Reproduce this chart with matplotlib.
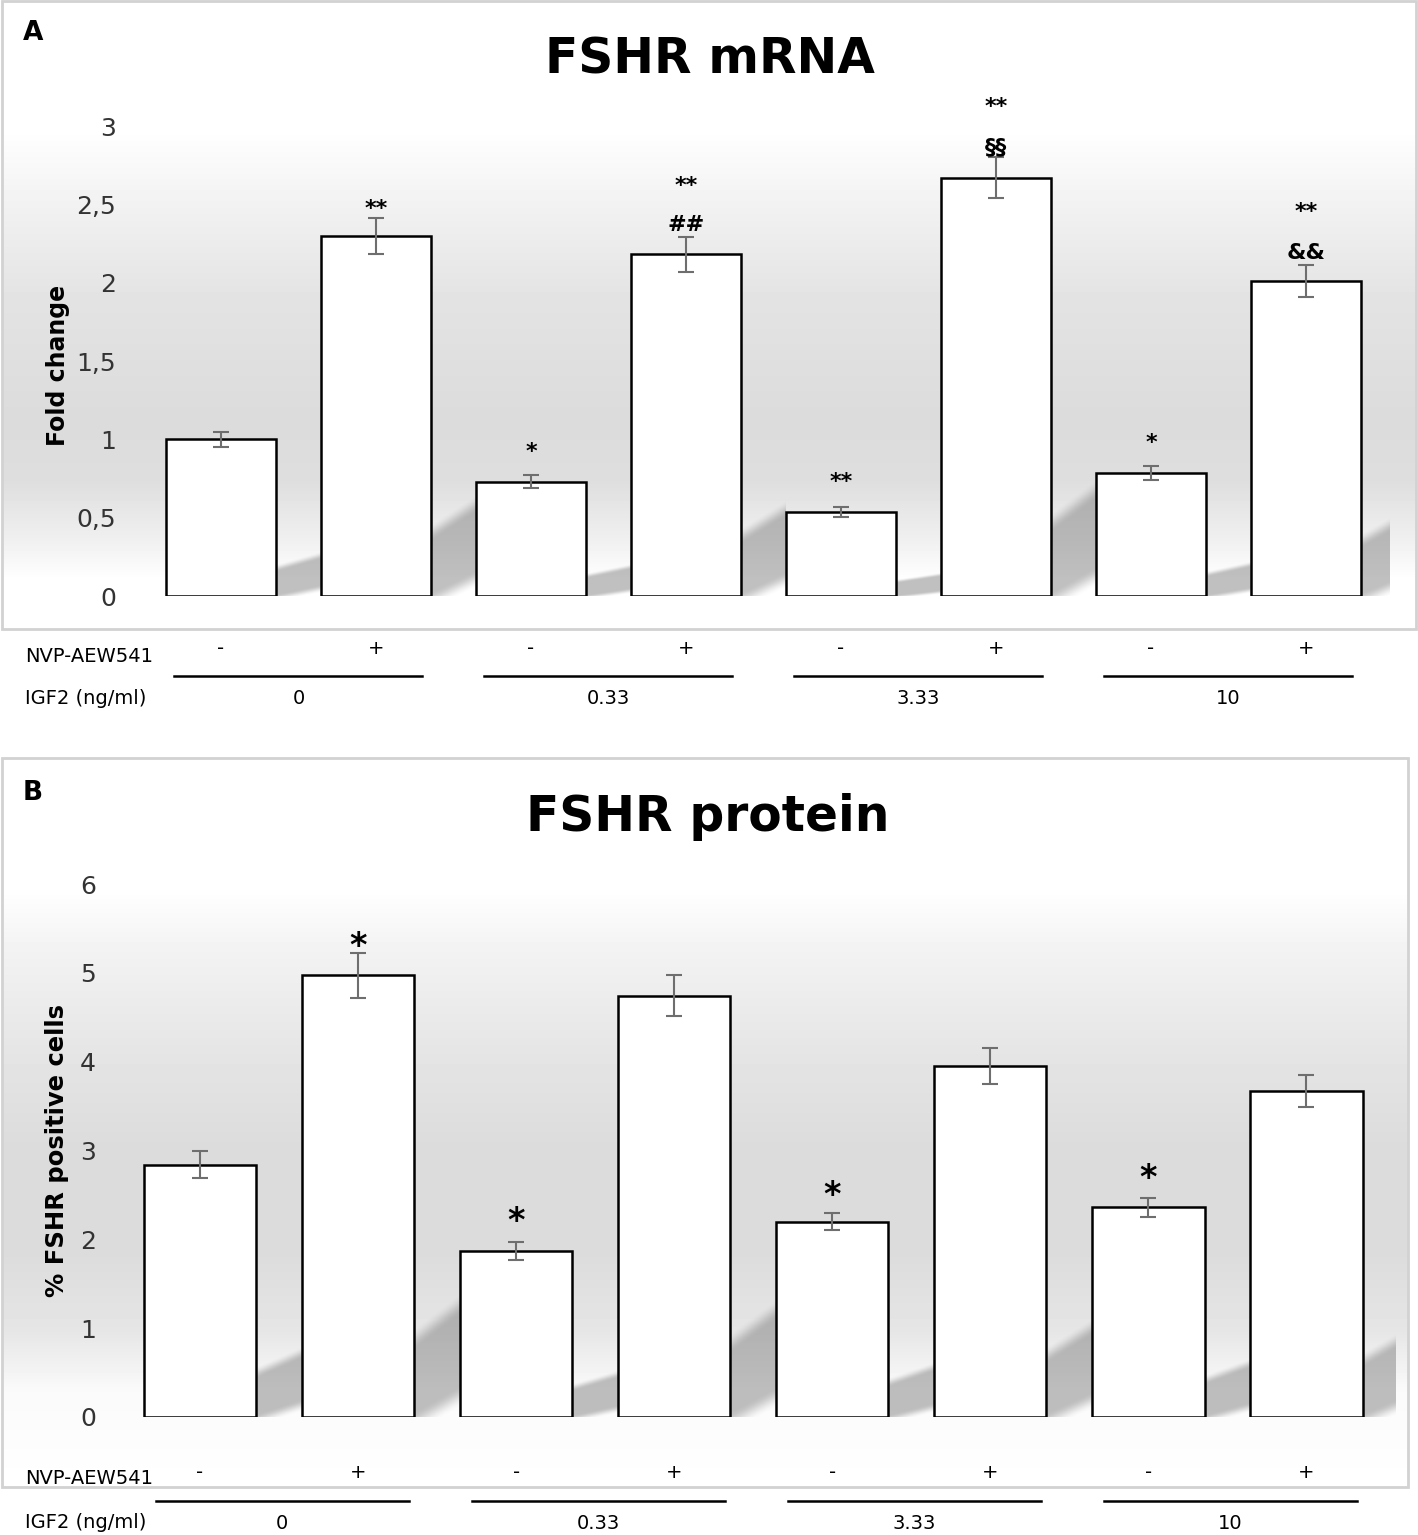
import numpy as np
import matplotlib
matplotlib.use("Agg")
import matplotlib.pyplot as plt
from matplotlib.patches import Rectangle
from matplotlib.transforms import blended_transform_factory

W, H = 1418, 1535

# treatment layout shared by both panels
nvp = ["-", "+", "-", "+", "-", "+", "-", "+"]
igf2_doses = ["0", "0.33", "3.33", "10"]

# panel A: FSHR mRNA fold change
mrna_mean = [1.00, 2.30, 0.73, 2.18, 0.536, 2.67, 0.785, 2.01]
mrna_err = [0.05, 0.115, 0.04, 0.11, 0.03, 0.13, 0.045, 0.10]
mrna_sig = ["", "**", "*", "##", "**", "§§", "*", "&&"]
mrna_sig_top = ["", "", "", "**", "", "**", "", "**"]
mrna_ticks = [0, 0.5, 1, 1.5, 2, 2.5, 3]
mrna_ticklabels = ["0", "0,5", "1", "1,5", "2", "2,5", "3"]

# panel B: % FSHR positive cells
prot_mean = [2.84, 4.97, 1.87, 4.74, 2.20, 3.95, 2.36, 3.67]
prot_err = [0.15, 0.25, 0.10, 0.23, 0.10, 0.20, 0.11, 0.18]
prot_sig = ["", "*", "*", "", "*", "", "*", ""]
prot_ticks = [0, 1, 2, 3, 4, 5, 6]
prot_ticklabels = ["0", "1", "2", "3", "4", "5", "6"]

# label gaps above the error bar tops (data units)
mrna_gap = [0, 0.055, 0.15, 0.075, 0.16, 0.065, 0.145, 0.08]
mrna_gap_top = [0, 0, 0, 0.33, 0, 0.32, 0, 0.34]
prot_gap = [0, 0.08, 0.23, 0, 0.19, 0, 0.21, 0]

fig = plt.figure(figsize=(W / 100, H / 100), dpi=100)
fig.patch.set_facecolor("white")


def px_axes(l, t, r, b):
    return fig.add_axes([l / W, 1 - b / H, (r - l) / W, (b - t) / H])


def fig_text(x, y, s, **kw):
    fig.text(x / W, 1 - y / H, s, **kw)


def panel_background(box, stops, levels):
    l, t, r, b = box
    bg = px_axes(l, t, r, b)
    bg.set_zorder(0)
    col = np.interp(np.arange(t, b) + 0.5, stops, levels)
    img = np.repeat(col[:, None], 16, axis=1)
    bg.imshow(img, cmap="gray", vmin=0, vmax=1, aspect="auto",
              extent=[0, 1, 0, 1], interpolation="nearest")
    bg.add_patch(Rectangle((0, 0), 1, 1, transform=bg.transAxes, fill=False,
                           ec="#d2d2d2", lw=2, clip_on=False))
    bg.axis("off")


def smooth(t):
    t = np.clip(t, 0, 1)
    return t * t * (3 - 2 * t)


# diagonal drop shadow in the gap right of a bar, in units of bar height
SH_TOP = 0.32


def shadow_image(n=120):
    u = np.linspace(0, 1, n)[None, :]
    v = np.linspace(SH_TOP, 0, n)[:, None]
    top = 0.20 + 0.08 * u
    bot = -0.04 + 0.06 * u
    a = smooth((top - v) / 0.05) * smooth((v - bot) / 0.05)
    img = np.zeros((n, n, 4))
    img[..., :3] = 0.45
    img[..., 3] = 0.45 * a
    return img


def draw_panel(ax, means, errs, ticks, ticklabels, ylim, xlim,
               sig_rows, sig_size, row_y, group_center):
    x = np.arange(len(means))
    w = 0.71
    ax.set_zorder(1)
    ax.patch.set_alpha(0)
    shade = shadow_image()
    for xi, m in zip(x, means):
        ax.imshow(shade, extent=[xi + w / 2, xi + w / 2 + (1 - w), 0, m * SH_TOP],
                  aspect="auto", interpolation="bilinear", zorder=2)
    ax.bar(x, means, width=w, color="white", edgecolor="black", linewidth=1.8, zorder=3)
    ax.errorbar(x, means, yerr=errs, fmt="none", ecolor="#6e6e6e", elinewidth=1.5,
                capsize=5.5, capthick=1.5, zorder=4)
    for labels, gaps in sig_rows:
        for xi, m, e, s, g in zip(x, means, errs, labels, gaps):
            if s:
                ax.text(xi, m + e + g, s, ha="center", va="center", fontsize=sig_size,
                        fontweight="bold", zorder=5)
    ax.set_xlim(*xlim)
    ax.set_ylim(*ylim)
    ax.set_yticks(ticks)
    ax.set_yticklabels(ticklabels)
    ax.set_xticks([])
    ax.tick_params(axis="y", length=0, labelsize=18, labelcolor="#333333", pad=10)
    for sp in ax.spines.values():
        sp.set_visible(False)

    tr = blended_transform_factory(ax.transData, ax.transAxes)
    for xi, s in zip(x, nvp):
        ax.text(xi, row_y[0], s, transform=tr, ha="center", va="center", fontsize=14)
    for g, dose in enumerate(igf2_doses):
        c = 2 * g + group_center
        ax.plot([c - 0.8, c + 0.8], [row_y[1], row_y[1]], transform=tr, color="black",
                lw=1.8, clip_on=False)
        ax.text(c, row_y[2], dose, transform=tr, ha="center", va="center", fontsize=14)


# ---- panel A ----
panel_background((2, 1, 1416, 629), [1, 130, 200, 300, 420, 480, 540, 580, 629],
                 [1.0, 1.0, 0.95, 0.89, 0.86, 0.87, 0.94, 1.0, 1.0])
axA = px_axes(130, 126, 1390, 596)
draw_panel(axA, mrna_mean, mrna_err, mrna_ticks, mrna_ticklabels, (0, 3),
           (-0.587, 7.542),
           [(mrna_sig, mrna_gap), (mrna_sig_top, mrna_gap_top)], 16,
           (-0.111, -0.170, -0.219), 0.5)
axA.text(-0.057, 0.49, "Fold change", transform=axA.transAxes, rotation=90,
         ha="center", va="center", fontsize=17, fontweight="bold")
fig_text(33, 33, "A", ha="center", va="center", fontsize=19, fontweight="bold")
fig_text(710, 60, "FSHR mRNA", ha="center", va="center", fontsize=35, fontweight="bold")
fig_text(25, 656, "NVP-AEW541", ha="left", va="center", fontsize=14)
fig_text(25, 699, "IGF2 (ng/ml)", ha="left", va="center", fontsize=14)

# ---- panel B ----
panel_background((2, 758, 1408, 1487), [758, 890, 950, 1050, 1150, 1250, 1330, 1390, 1487],
                 [1.0, 1.0, 0.95, 0.9, 0.86, 0.86, 0.9, 0.98, 1.0])
axB = px_axes(110, 884, 1395, 1417)
draw_panel(axB, prot_mean, prot_err, prot_ticks, prot_ticklabels, (0, 6),
           (-0.569, 7.56),
           [(prot_sig, prot_gap)], 24,
           (-0.105, -0.158, -0.199), 0.52)
axB.text(-0.041, 0.5, "% FSHR positive cells", transform=axB.transAxes, rotation=90,
         ha="center", va="center", fontsize=17.5, fontweight="bold")
fig_text(33, 793, "B", ha="center", va="center", fontsize=19, fontweight="bold")
fig_text(708, 817, "FSHR protein", ha="center", va="center", fontsize=35, fontweight="bold")
fig_text(25, 1478, "NVP-AEW541", ha="left", va="center", fontsize=14)
fig_text(25, 1523, "IGF2 (ng/ml)", ha="left", va="center", fontsize=14)

fig.savefig("out.png", dpi=100, facecolor="white")
